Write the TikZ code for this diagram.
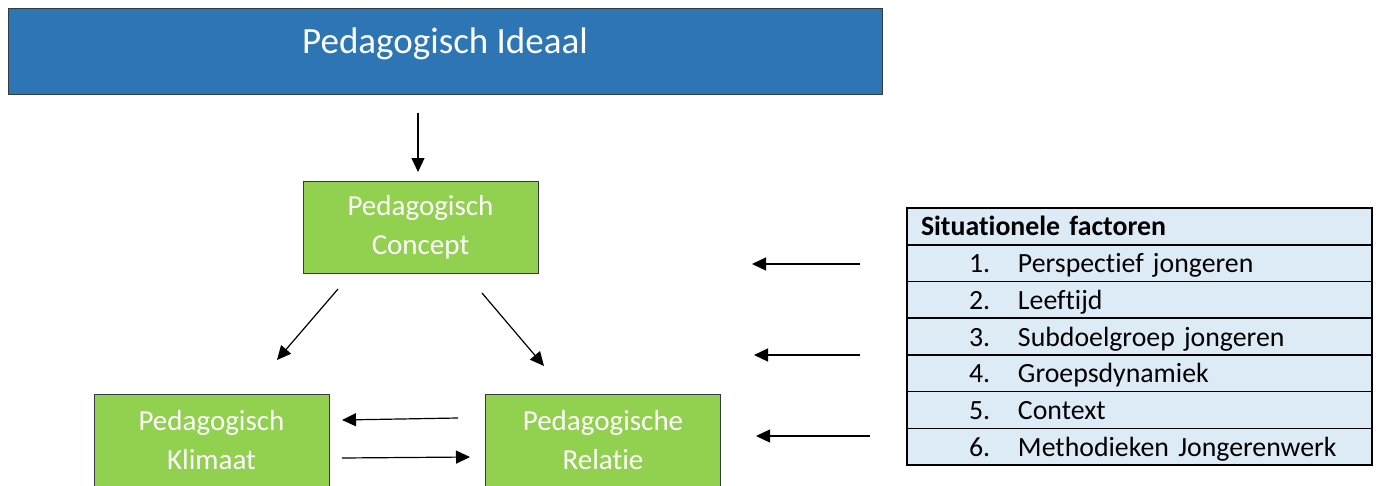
\documentclass[tikz,border=0pt]{standalone}
\usepackage{fontspec}
\setmainfont{Carlito}[Ligatures=NoCommon]
\usetikzlibrary{arrows.meta}

\definecolor{idealblue}{HTML}{2E75B6}
\definecolor{conceptgreen}{HTML}{92D050}
\definecolor{factorblue}{HTML}{DDEBF7}
\definecolor{edgegray}{HTML}{353A40}

\begin{document}
\begin{tikzpicture}[x=1pt, y=-1pt,
  greenbox/.style={draw=edgegray, line width=1pt, fill=conceptgreen, text=white,
    minimum width=235pt, minimum height=92pt, align=center,
    font=\fontsize{29}{39}\selectfont},
  factorrow/.style={draw=black, line width=1.5pt, fill=factorblue,
    minimum width=465pt, minimum height=36.7pt, inner sep=0pt, text width=465pt,
    align=left, text height=24pt, text depth=5pt,
    font=\fontsize{27.8}{30}\selectfont},
  arr/.style={-{Triangle[length=14pt,width=13pt]}, line width=1.2pt}]
\useasboundingbox (0,0) rectangle (1379,485);

% top banner
\node[draw=edgegray, line width=1pt, fill=idealblue, text=white,
  minimum width=874pt, minimum height=86pt, text height=24pt, text depth=20pt,
  font=\fontsize{37}{40}\selectfont] (ideal) at (445,51) {Pedagogisch Ideaal};

% the three green blocks
\node[greenbox] (concept) at (420.5,227) {Pedagogisch\\Concept};
\node[greenbox] (klimaat) at (211.5,440) {Pedagogisch\\Klimaat};
\node[greenbox] (relatie) at (603,440) {Pedagogische\\Relatie};

% list of factors
\node[factorrow] (hdr) at (1139.5,226.4) {\hspace*{14pt}\textbf{Situationele factoren}};
\foreach \i/\t in {1/Perspectief jongeren, 2/Leeftijd, 3/Subdoelgroep jongeren,
                   4/Groepsdynamiek, 5/Context, 6/Methodieken Jongerenwerk}
  \node[factorrow] (row\i) at (1139.5,{226.4+36.7*\i})
    {\hspace*{62pt}\makebox[49pt][l]{\i.}\t};

% arrow ends
\coordinate (a1) at (418,113);  \coordinate (a2) at (418,172);
\coordinate (b1) at (338,289);  \coordinate (b2) at (277,360);
\coordinate (c1) at (482,293);  \coordinate (c2) at (544,366);
\coordinate (d1) at (458,418);  \coordinate (d2) at (342,420);
\coordinate (e1) at (342,458);  \coordinate (e2) at (470,457);
\coordinate (f1) at (860,264);  \coordinate (f2) at (752,264);
\coordinate (g1) at (860,355);  \coordinate (g2) at (754,355);
\coordinate (h1) at (870,436);  \coordinate (h2) at (756,436);

\draw[arr] (a1) -- (a2);
\draw[arr] (b1) -- (b2);
\draw[arr] (c1) -- (c2);
\draw[arr] (d1) -- (d2);
\draw[arr] (e1) -- (e2);
\draw[arr] (f1) -- (f2);
\draw[arr] (g1) -- (g2);
\draw[arr] (h1) -- (h2);
\end{tikzpicture}
\end{document}
